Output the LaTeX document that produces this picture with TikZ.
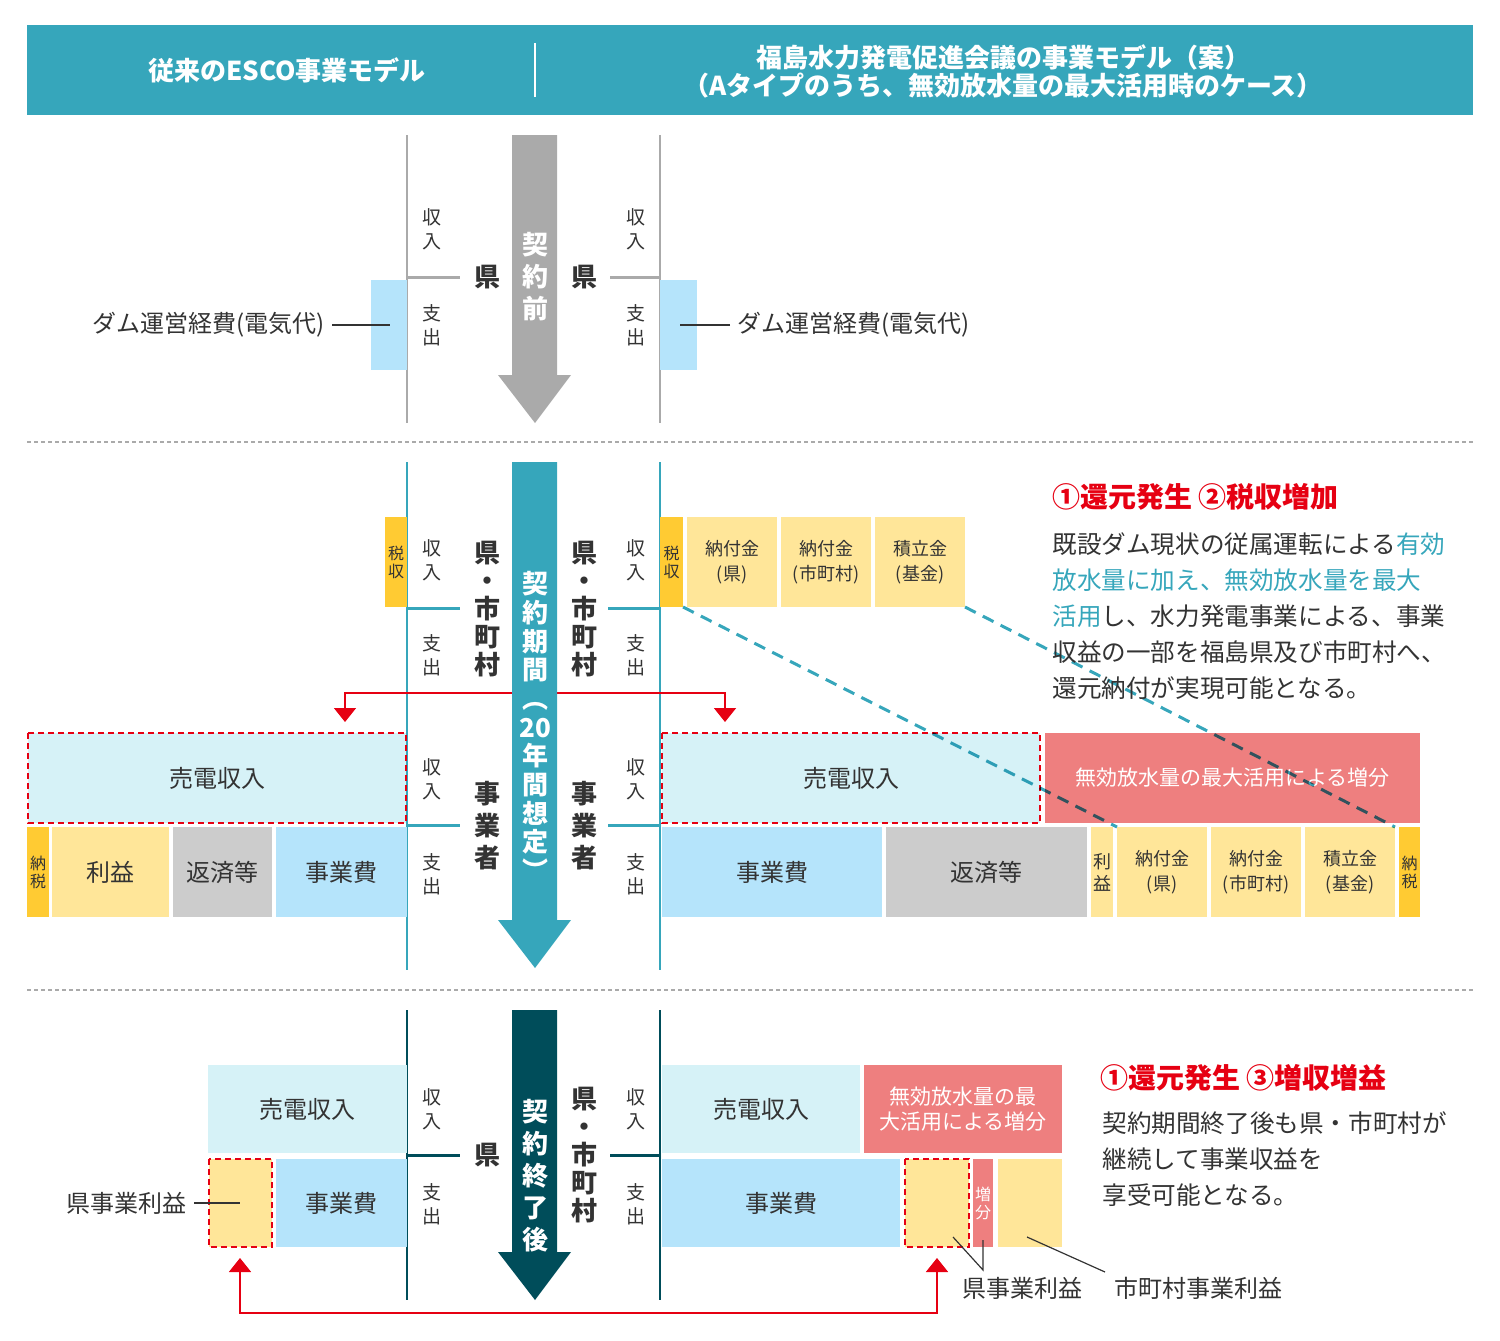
\documentclass[tikz,border=0pt]{standalone}
\usepackage{fontspec}
\setmainfont{Noto Sans CJK JP}
\usetikzlibrary{arrows.meta}
\definecolor{hdteal}{HTML}{36A6BB}
\definecolor{lcyan}{HTML}{D6F2F7}
\definecolor{lblue}{HTML}{B5E4FB}
\definecolor{lyellow}{HTML}{FFE699}
\definecolor{dyellow}{HTML}{FFCB33}
\definecolor{lgray}{HTML}{CCCCCC}
\definecolor{salmon}{HTML}{EE7F7F}
\definecolor{hired}{HTML}{E60012}
\definecolor{dteal}{HTML}{004D5A}
\definecolor{agray}{HTML}{AAAAAA}
\definecolor{txt}{HTML}{333333}
\tikzset{
  small/.style={font=\fontsize{9.5}{12}\selectfont, align=center, text=txt},
  who/.style={font=\bfseries\fontsize{13}{14}\selectfont, align=center, text=txt},
  period/.style={font=\bfseries\fontsize{13}{16}\selectfont, align=center, text=white},
  mid/.style={font=\fontsize{12}{14}\selectfont, text=txt},
  tiny/.style={font=\fontsize{8}{9}\selectfont, text=txt},
  pay/.style={font=\fontsize{9}{12.5}\selectfont, text=txt},
  reddash/.style={draw=hired, line width=0.8pt, dash pattern=on 3pt off 2pt},
  redarr/.style={draw=hired, line width=0.8pt, -{Triangle[width=11pt,length=7pt]}},
  tealdash/.style={draw=hdteal, line width=1.5pt, dash pattern=on 6pt off 4pt, blend mode=multiply},
  sep/.style={draw=agray, line width=0.6pt, dash pattern=on 2pt off 1.5pt},
  lab/.style={draw=txt, line width=0.6pt},
}
% box from (x1,y1) to (x2,y2) with text in the middle
\newcommand\cell[7]{\path[#1] (#3,#4) coordinate (#2-nw) rectangle (#5,#6) coordinate (#2-se) node[midway, align=center] (#2) {#7};}
\begin{document}
\begin{tikzpicture}[x=0.5pt,y=-0.5pt]
\useasboundingbox (0,0) rectangle (1500,1340);
% header
\fill[hdteal] (27,25) rectangle (1473,115);
\draw[white, line width=1pt] (535,43) -- (535,97);
\node[white, font=\bfseries\fontsize{13}{14}\selectfont] (hleft) at (287,70) {従来のESCO事業モデル};
\node[white, font=\bfseries\fontsize{13}{14}\selectfont, align=center] (hright) at (1003,71) {福島水力発電促進会議の事業モデル（案）\\（Aタイプのうち、無効放水量の最大活用時のケース）};
\draw[sep] (27,442) -- (1473,442);
\draw[sep] (27,990) -- (1473,990);

% before contract
\draw[agray, line width=1pt] (407,135) -- (407,423);
\draw[agray, line width=1pt] (660,135) -- (660,423);
\fill[agray] (512,135) -- (557,135) -- (557,375) -- (571,375) -- (535,423) -- (498,375) -- (512,375) -- cycle;
\node[period] (pre) at (535,277) {契\\約\\前};
\draw[agray, line width=1.5pt] (407,277) -- (460,277) (610,277) -- (660,277);
\node[who] (ken1l) at (487,277) {県};
\node[who] (ken1r) at (584,277) {県};
\node[small] (in1l) at (432,229) {収\\入};
\node[small] (out1l) at (432,325) {支\\出};
\node[small] (in1r) at (636,229) {収\\入};
\node[small] (out1r) at (636,325) {支\\出};
\cell{fill=lblue}{dam1l}{371}{280}{407}{370}{}
\cell{fill=lblue}{dam1r}{660}{280}{697}{370}{}
\node[mid, anchor=east] (damlabl) at (332,325) {ダム運営経費(電気代)};
\node[mid, anchor=west] (damlabr) at (730,325) {ダム運営経費(電気代)};
\coordinate (dl) at (390,325);
\coordinate (dr) at (680,325);
\draw[lab] (damlabl) -- (dl);
\draw[lab] (damlabr) -- (dr);

% contract period
\draw[hdteal, line width=1pt] (407,462) -- (407,970);
\draw[hdteal, line width=1pt] (660,462) -- (660,970);
\coordinate (rc) at (535,693);
\coordinate (rl) at (345,722);
\coordinate (rr) at (725,722);
\draw[redarr] (rc) -| (rl);
\draw[redarr] (rc) -| (rr);
\fill[hdteal] (512,462) -- (557,462) -- (557,920) -- (571,920) -- (535,968) -- (498,920) -- (512,920) -- cycle;
\node[period, font=\bfseries\fontsize{13}{14.35}\selectfont] (mid) at (535,726) {契\\約\\期\\間\\︵\\20\\年\\間\\想\\定\\︶};
\draw[hdteal, line width=1.5pt] (407,608) -- (460,608) (608,608) -- (660,608);
\draw[hdteal, line width=1.5pt] (407,825) -- (460,825) (608,825) -- (660,825);
\node[who] (kc2l) at (487,609) {県\\・\\市\\町\\村};
\node[who] (kc2r) at (584,609) {県\\・\\市\\町\\村};
\node[who, font=\bfseries\fontsize{13}{16}\selectfont] (biz2l) at (487,826) {事\\業\\者};
\node[who, font=\bfseries\fontsize{13}{16}\selectfont] (biz2r) at (584,826) {事\\業\\者};
\node[small] (in2l) at (432,560) {収\\入};
\node[small] (out2l) at (432,655) {支\\出};
\node[small] (in2r) at (636,560) {収\\入};
\node[small] (out2r) at (636,655) {支\\出};
\node[small] (in3l) at (432,779) {収\\入};
\node[small] (out3l) at (432,874) {支\\出};
\node[small] (in3r) at (636,779) {収\\入};
\node[small] (out3r) at (636,874) {支\\出};
\cell{fill=dyellow, tiny}{taxl}{385}{517}{407}{607}{税\\収}
\cell{fill=dyellow, tiny}{taxr}{660}{517}{683}{607}{税\\収}
\cell{fill=lyellow, pay}{nafua}{687}{517}{777}{607}{納付金\\(県)}
\cell{fill=lyellow, pay}{nafub}{781}{517}{871}{607}{納付金\\(市町村)}
\cell{fill=lyellow, pay}{funda}{875}{517}{965}{607}{積立金\\(基金)}
\cell{reddash, fill=lcyan, mid}{sale2l}{28}{733}{406}{823}{売電収入}
\cell{reddash, fill=lcyan, mid}{sale2r}{662}{733}{1040}{823}{売電収入}
\cell{fill=salmon, font=\fontsize{10.5}{12}\selectfont, text=white}{plus2}{1045}{733}{1420}{823}{無効放水量の最大活用による増分}
\cell{fill=dyellow, tiny}{nozl}{27}{827}{49}{917}{納\\税}
\cell{fill=lyellow, mid}{rieki2l}{52}{827}{169}{917}{利益}
\cell{fill=lgray, mid}{hen2l}{173}{827}{272}{917}{返済等}
\cell{fill=lblue, mid}{cost2l}{276}{827}{407}{917}{事業費}
\cell{fill=lblue, mid}{cost2r}{662}{827}{882}{917}{事業費}
\cell{fill=lgray, mid}{hen2r}{886}{827}{1087}{917}{返済等}
\cell{fill=lyellow, font=\fontsize{9}{11}\selectfont, text=txt}{rieki2r}{1091}{827}{1113}{917}{利\\益}
\cell{fill=lyellow, pay}{nafuc}{1117}{827}{1207}{917}{納付金\\(県)}
\cell{fill=lyellow, pay}{nafud}{1211}{827}{1301}{917}{納付金\\(市町村)}
\cell{fill=lyellow, pay}{fundb}{1305}{827}{1395}{917}{積立金\\(基金)}
\cell{fill=dyellow, tiny}{nozr}{1399}{827}{1420}{917}{納\\税}
\draw[tealdash] (taxr-se) -- (nafuc-nw);
\draw[tealdash] (funda-se) -- (fundb-se |- fundb-nw);
\node[anchor=west, inner sep=0pt, text=hired, font=\bfseries\fontsize{14}{16}\selectfont] (head2) at (1052,497) {①還元発生 ②税収増加};
\node[anchor=west, inner sep=0pt, align=left, text=txt, font=\fontsize{12.3}{18}\selectfont] (note2) at (1052,616) {既設ダム現状の従属運転による\textcolor{hdteal}{有効}\\\textcolor{hdteal}{放水量に加え、無効放水量を最大}\\\textcolor{hdteal}{活用}し、水力発電事業による、事業\\収益の一部を福島県及び市町村へ、\\還元納付が実現可能となる。};

% after contract
\draw[dteal, line width=1pt] (407,1010) -- (407,1300);
\draw[dteal, line width=1pt] (660,1010) -- (660,1300);
\fill[dteal] (512,1010) -- (557,1010) -- (557,1252) -- (571,1252) -- (535,1300) -- (498,1252) -- (512,1252) -- cycle;
\node[period] (post) at (535,1176) {契\\約\\終\\了\\後};
\draw[dteal, line width=1.5pt] (407,1155) -- (460,1155) (610,1155) -- (660,1155);
\node[who] (ken3l) at (487,1155) {県};
\node[who] (kc3r) at (584,1155) {県\\・\\市\\町\\村};
\node[small] (in4l) at (432,1109) {収\\入};
\node[small] (out4l) at (432,1204) {支\\出};
\node[small] (in4r) at (636,1109) {収\\入};
\node[small] (out4r) at (636,1204) {支\\出};
\cell{fill=lcyan, mid}{sale3l}{208}{1065}{407}{1153}{売電収入}
\cell{reddash, fill=lyellow}{prof3l}{209}{1159}{272}{1247}{}
\cell{fill=lblue, mid}{cost3l}{276}{1159}{407}{1247}{事業費}
\cell{fill=lcyan, mid}{sale3r}{662}{1065}{860}{1153}{売電収入}
\cell{fill=salmon, font=\fontsize{10.5}{12.5}\selectfont, text=white}{plus3}{864}{1065}{1062}{1153}{無効放水量の最\\大活用による増分}
\cell{fill=lblue, mid}{cost3r}{662}{1159}{900}{1247}{事業費}
\cell{reddash, fill=lyellow}{prof3r}{905}{1159}{969}{1247}{}
\cell{fill=salmon, font=\fontsize{8}{9}\selectfont, text=white}{zou3}{973}{1159}{993}{1247}{増\\分}
\cell{fill=lyellow}{muni3}{998}{1159}{1062}{1247}{}
\node[mid, anchor=east] (kenlab) at (194,1203) {県事業利益};
\coordinate (kp) at (240,1203);
\draw[lab] (kenlab) -- (kp);
\node[mid] (kenlab2) at (1022,1288) {県事業利益};
\node[mid] (munilab) at (1198,1288) {市町村事業利益};
\coordinate (va) at (953,1237);
\coordinate (vb) at (983,1270);
\coordinate (vc) at (983,1240);
\coordinate (ma) at (1027,1237);
\coordinate (mb) at (1105,1272);
\draw[lab] (va) -- (vb) -- (vc);
\draw[lab] (ma) -- (mb);
\coordinate (r3m) at (588,1313);
\coordinate (r3a) at (240,1258);
\coordinate (r3b) at (937,1258);
\draw[redarr] (r3m) -| (r3a);
\draw[redarr] (r3m) -| (r3b);
\node[anchor=west, inner sep=0pt, text=hired, font=\bfseries\fontsize{14}{16}\selectfont] (head3) at (1100,1078) {①還元発生 ③増収増益};
\node[anchor=west, inner sep=0pt, align=left, text=txt, font=\fontsize{12.3}{18}\selectfont] (note3) at (1102,1159) {契約期間終了後も県・市町村が\\継続して事業収益を\\享受可能となる。};
\end{tikzpicture}
\end{document}
